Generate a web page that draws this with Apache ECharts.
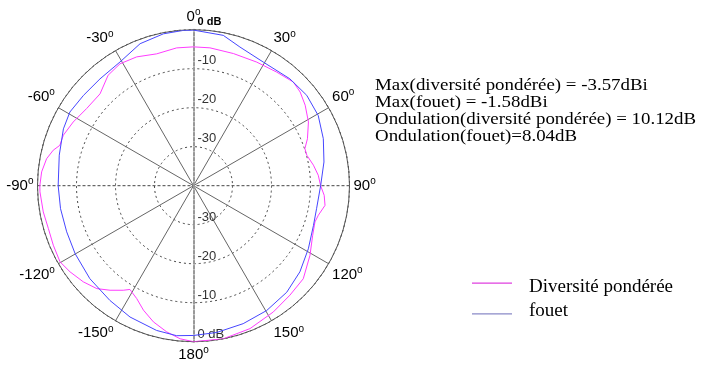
<!DOCTYPE html>
<html><head><meta charset="utf-8">
<script src="https://cdn.jsdelivr.net/npm/echarts@6/dist/echarts.min.js"></script>
<style>html,body{margin:0;padding:0;background:#fff}#c{width:709px;height:367px}</style>
</head><body><div id="c"></div>
<script>
// ---- data (angle in degrees, 0 = top, clockwise; level in dB) ----
const fouetAngles = [-180,-173.6,-165.7,-154.2,-143.9,-131.9,-119.9,-110,-99.8,-90,-77.2,-66.4,-59.2,-50.6,-41.2,-30.7,-20.6,-11.2,-3.8,0,11.2,18.5,29.4,42,51.4,60.6,70.1,79.7,90,100.6,108.3,118.8,129,138.8,149.6,160.2,171,180];
const fouetDb     = [-1.6,-1.3,-1.7,-2.6,-3.6,-4.3,-5.0,-5.4,-5.4,-5.3,-4.7,-3.6,-3.1,-3.5,-3.6,-3.1,-1.1,-0.3,-0.1,-0.1,-0.7,-2.5,-3.6,-3.1,-2.85,-3.3,-4.6,-6.0,-7.4,-7.9,-7.6,-6.4,-4.9,-3.7,-2.9,-2.4,-1.9,-1.6];
const divAngles = [-180,-175,-169.6,-163.6,-158.1,-153.3,-149.8,-148.5,-146.1,-141.4,-136.8,-131.1,-124.9,-119.7,-113,-106.5,-99.9,-92.3,-90,-84.8,-79.6,-75.8,-73.2,-68.8,-62.1,-54.2,-45.5,-37.7,-31.1,-23.8,-15.6,-7,0,6.8,16.8,27.1,36.2,43.9,48.7,54.2,61,67.6,71.6,75,80.3,85.2,90,94.2,98.5,103.3,106.6,112.6,120.9,130.3,138.6,147.7,158.4,169,180];
const divDb     = [0,-0.6,-1.9,-3.6,-5.6,-7.6,-8.5,-8.8,-7.7,-5.7,-3.8,-2.5,-1.4,-0.6,-0.95,-1.2,-0.9,-0.6,-0.6,-0.9,-1.7,-2.9,-4.2,-4.2,-5.1,-6.2,-6.4,-4.2,-3.5,-3.9,-4.9,-4.4,-4.4,-4.4,-4.6,-4.4,-3.9,-3.1,-3.6,-4.7,-6.3,-8.4,-9.9,-9.9,-8.8,-7.9,-7.4,-6.4,-5.9,-7.1,-7.5,-6.9,-5.2,-3.1,-2.6,-1.7,-0.6,0,0];
const seriesNames = ['Diversité pondérée', 'fouet'];
const radiusMin = -40, radiusMax = 0, radiusStep = 10;
const angleStep = 30;
const annotationLines = [
  'Max(diversité pondérée) = -3.57dBi',
  'Max(fouet) = -1.58dBi',
  'Ondulation(diversité pondérée) = 10.12dB',
  'Ondulation(fouet)=8.04dB'
];

const toPolar = (angles, db) => angles.map((a, i) => [db[i], a]);
const CENTER = [193.5, 185.7];
const R = 156;

const angleLabel = v => {
  if (v >= 360) return '';
  const s = v > 180 ? v - 360 : v;
  return '{n|' + s + '}{o|o}';
};
const radLabel = bold => v => {
  if (v === radiusMin) return '';
  if (v === 0) return bold ? '{b|0 dB}' : '0 dB';
  return String(v);
};

const chart = echarts.init(document.getElementById('c'));
chart.setOption({
  animation: false,
  backgroundColor: '#fff',
  polar: [
    { center: CENTER, radius: R },
    { center: CENTER, radius: R }
  ],
  angleAxis: [
    { polarIndex: 0, type: 'value', min: 0, max: 360, interval: angleStep, startAngle: 90, clockwise: true,
      axisLine: { lineStyle: { color: '#555', width: 1 } },
      axisTick: { show: false },
      axisLabel: { formatter: angleLabel, margin: 4,
        rich: {
          n: { fontFamily: 'Liberation Sans', fontSize: 15, color: '#000', lineHeight: 18 },
          o: { fontFamily: 'Liberation Sans', fontSize: 10, color: '#000', lineHeight: 18, verticalAlign: 'top' }
        } },
      splitLine: { show: true, lineStyle: { color: ['transparent', '#666', '#666'], width: 1 } },
      z: 1
    },
    { polarIndex: 1, type: 'value', min: 0, max: 360, interval: 90, startAngle: 270, clockwise: true,
      axisLine: { show: false }, axisTick: { show: false }, axisLabel: { show: false },
      splitLine: { show: true, lineStyle: { color: ['transparent', '#444', 'transparent', '#444'], type: [3, 2], width: 1 } },
      z: 1
    }
  ],
  radiusAxis: [
    { polarIndex: 0, type: 'value', min: radiusMin, max: radiusMax, interval: radiusStep,
      axisLine: { show: true, lineStyle: { color: '#999', type: [3, 2], width: 2 } },
      axisTick: { show: false },
      axisLabel: { formatter: radLabel(true), margin: -4, align: 'left', verticalAlign: 'middle', padding: [0, 0, 16, 0],
        fontFamily: 'Liberation Sans', fontSize: 13, color: '#333',
        rich: { b: { fontFamily: 'Liberation Sans', fontSize: 11, fontWeight: 'bold', color: '#000' } } },
      splitLine: { show: true, lineStyle: { color: '#444', type: [2, 3], width: 1 } },
      z: 1
    },
    { polarIndex: 1, type: 'value', min: radiusMin, max: radiusMax, interval: radiusStep,
      axisLine: { show: true, lineStyle: { color: '#999', type: [3, 2], width: 2 } },
      axisTick: { show: false },
      axisLabel: { formatter: radLabel(false), margin: 4, align: 'left', verticalAlign: 'bottom', padding: [0, 0, 1, 0],
        fontFamily: 'Liberation Sans', fontSize: 13, color: '#333' },
      splitLine: { show: false },
      z: 1
    }
  ],
  legend: [
    { data: [{ name: seriesNames[0], itemStyle: { color: '#e040e0' }, lineStyle: { color: '#e040e0' } }],
      left: 472, top: 278, padding: 0, itemWidth: 40, itemHeight: 10,
      icon: 'path://M0,0 H40 V1.2 H0 Z M40,10 L40,9.99 L39.99,10 Z',
      textStyle: { fontFamily: 'Liberation Serif', fontSize: 19, color: '#000', padding: [0, 0, 0, 12] } },
    { data: [{ name: seriesNames[1], itemStyle: { color: '#8a8ac8' }, lineStyle: { color: '#8a8ac8' } }],
      left: 472, top: 302, padding: 0, itemWidth: 40, itemHeight: 6,
      icon: 'path://M0,0 L0.01,0 L0,0.01 Z M0,4.8 H40 V6 H0 Z',
      textStyle: { fontFamily: 'Liberation Serif', fontSize: 19, color: '#000', padding: [0, 0, 0, 12] } }
  ],
  graphic: [
    { type: 'text', left: 375, top: 77, scaleX: 1.18, z: 10,
      style: { text: annotationLines.join('\n'), font: '16px "Liberation Serif"', lineHeight: 17, fill: '#000' } }
  ],
  series: [
    { name: seriesNames[0], type: 'line', coordinateSystem: 'polar', polarIndex: 0, data: toPolar(divAngles, divDb),
      showSymbol: false, symbol: 'none', lineStyle: { color: '#ff3cff', width: 1 }, itemStyle: { color: '#ff3cff' }, z: 5 },
    { name: seriesNames[1], type: 'line', coordinateSystem: 'polar', polarIndex: 0, data: toPolar(fouetAngles, fouetDb),
      showSymbol: false, symbol: 'none', lineStyle: { color: '#4646ff', width: 1 }, itemStyle: { color: '#4646ff' }, z: 5 }
  ]
});
</script>
</body></html>
